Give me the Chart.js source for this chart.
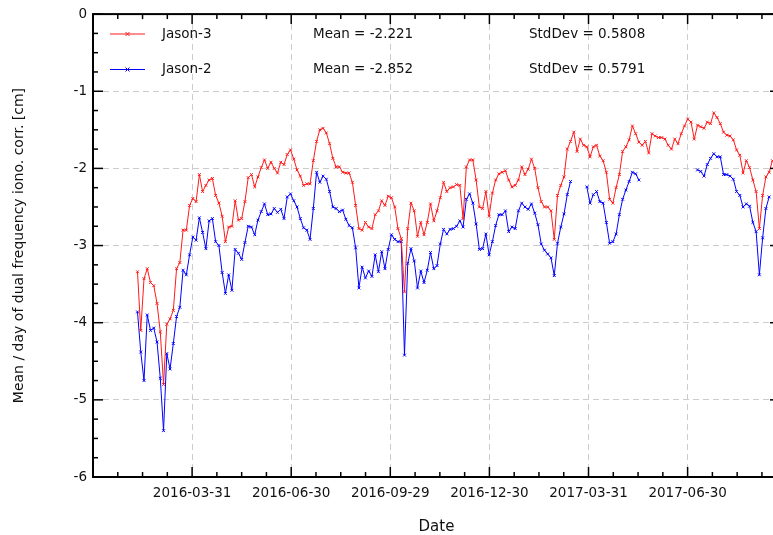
<!DOCTYPE html>
<html>
<head>
<meta charset="utf-8">
<script src="https://cdn.jsdelivr.net/npm/chart.js@4/dist/chart.umd.min.js"></script>
<style>
  html, body { margin: 0; padding: 0; overflow: hidden; background: #fff; }
  #chart { position: absolute; left: 0; top: 0; }
</style>
</head>
<body>
<canvas id="chart" width="790" height="535"></canvas>
<script>
// x axis: days since 2015-12-31, major ticks every quarter year
const QUARTER = 91.3125;
const TICK_LABELS = ['2016-03-31', '2016-06-30', '2016-09-29', '2016-12-30', '2017-03-31', '2017-06-30'];
const FIRST_DAY = 41;   // 2016-02-10
const STEP_DAYS = 3;

const SERIES_NAMES = ['Jason-3', 'Jason-2'];
const MEAN_TEXT = ['Mean = -2.221', 'Mean = -2.852'];
const STD_TEXT = ['StdDev = 0.5808', 'StdDev = 0.5791'];

const JASON3 = [
  -3.34, -4.10, -3.43, -3.30, -3.48, -3.52, -3.75, -4.12, -4.80, -4.02,
  -3.95, -3.84, -3.30, -3.22, -2.80, -2.80, -2.48, -2.39, -2.43, -2.08,
  -2.30, -2.22, -2.15, -2.13, -2.35, -2.45, -2.62, -2.95, -2.76, -2.75,
  -2.42, -2.67, -2.65, -2.43, -2.12, -2.08, -2.24, -2.11, -1.99, -1.89,
  -2.00, -1.92, -2.00, -2.06, -1.92, -1.95, -1.82, -1.76, -1.88, -2.02,
  -2.10, -2.22, -2.20, -2.20, -1.90, -1.65, -1.50, -1.48, -1.54, -1.68,
  -1.87, -1.98, -1.98, -2.05, -2.06, -2.06, -2.18, -2.48, -2.78, -2.80,
  -2.70, -2.76, -2.78, -2.60, -2.55, -2.42, -2.48, -2.36, -2.38, -2.50,
  -2.78, -2.91, -3.60, -2.78, -2.45, -2.55, -2.88, -2.70, -2.86, -2.70,
  -2.46, -2.68, -2.55, -2.38, -2.18, -2.30, -2.25, -2.24, -2.21, -2.22,
  -2.65, -1.98, -1.89, -1.89, -2.15, -2.50, -2.52, -2.30, -2.62, -2.32,
  -2.15, -2.07, -2.05, -2.03, -2.15, -2.24, -2.22, -2.15, -1.98, -2.08,
  -2.01, -1.88, -2.00, -2.25, -2.43, -2.50, -2.50, -2.55, -2.92, -2.35,
  -2.22, -2.11, -1.75, -1.65, -1.53, -1.78, -1.62, -1.70, -1.72, -1.85,
  -1.72, -1.70, -1.84, -1.90, -2.05, -2.40, -2.45, -2.25, -2.08, -1.78,
  -1.72, -1.63, -1.45, -1.55, -1.66, -1.70, -1.65, -1.80, -1.55, -1.58,
  -1.60, -1.60, -1.62, -1.70, -1.75, -1.62, -1.68, -1.55, -1.45, -1.36,
  -1.40, -1.62, -1.44, -1.46, -1.48, -1.40, -1.42, -1.28, -1.34, -1.42,
  -1.53, -1.57, -1.58, -1.63, -1.76, -1.83, -2.06, -1.90, -1.99, -2.15,
  -2.30, -2.78, -2.35, -2.11, -2.05, -1.90
];

const JASON2 = [
  -3.86, -4.38, -4.75, -3.90, -4.10, -4.07, -4.25, -4.72, -5.40, -4.40,
  -4.60, -4.27, -3.92, -3.80, -3.32, -3.38, -3.12, -2.89, -2.93, -2.64,
  -2.83, -3.04, -2.68, -2.65, -2.95, -3.00, -3.35, -3.62, -3.38, -3.58,
  -3.05, -3.10, -3.18, -2.96, -2.75, -2.76, -2.86, -2.67, -2.56, -2.46,
  -2.60, -2.59, -2.52, -2.57, -2.53, -2.65, -2.37, -2.33, -2.42, -2.50,
  -2.65, -2.77, -2.80, -2.92, -2.52, -2.05, -2.18, -2.10, -2.14, -2.30,
  -2.50, -2.52, -2.56, -2.54, -2.66, -2.74, -2.77, -3.03, -3.55, -3.28,
  -3.42, -3.33, -3.40, -3.12, -3.34, -3.08, -3.30, -3.05, -2.86, -2.92,
  -2.95, -2.95, -4.42, -3.23, -3.04, -3.20, -3.55, -3.33, -3.48, -3.32,
  -3.09, -3.30, -3.26, -2.98, -2.79, -2.85, -2.79, -2.78, -2.75, -2.68,
  -2.76, -2.40, -2.33, -2.45, -2.72, -3.05, -3.04, -2.85, -3.12, -2.95,
  -2.74, -2.60, -2.60, -2.55, -2.82, -2.76, -2.78, -2.55, -2.45, -2.50,
  -2.53, -2.46, -2.58, -2.73, -2.98, -3.06, -3.11, -3.16, -3.39, -2.97,
  -2.76, -2.59, -2.34, -2.17, null, null, null, null, -2.24, -2.45,
  -2.34, -2.30, -2.43, -2.45, -2.70, -2.97, -2.95, -2.85, -2.60, -2.40,
  -2.28, -2.17, -2.05, -2.07, -2.15, null, null, null, null, null,
  null, null, null, null, null, null, null, null, null, null,
  null, null, -2.02, -2.04, -2.10, -1.95, -1.87, -1.81, -1.85, -1.85,
  -2.08, -2.08, -2.10, -2.14, -2.30, -2.35, -2.50, -2.46, -2.49, -2.70,
  -2.82, -3.38, -2.90, -2.52, -2.37, null
];

const COLORS = ['#ff1a1a', '#0000ff'];
const FONT = 'DejaVu Sans';

function toPoints(values) {
  return values.map((v, i) => ({ x: FIRST_DAY + i * STEP_DAYS, y: v }));
}

function dataset(i, values) {
  return {
    label: SERIES_NAMES[i],
    data: toPoints(values),
    borderColor: COLORS[i],
    backgroundColor: COLORS[i],
    borderWidth: 1,
    pointStyle: 'crossRot',
    pointRadius: 2,
    pointBorderWidth: 1,
    pointBorderColor: COLORS[i],
    pointHoverRadius: 2,
    spanGaps: false,
    tension: 0
  };
}

// inward ticks, frame and the legend block
const frame = {
  id: 'frame',
  afterDraw(chart) {
    const { ctx, chartArea: a, scales: { x, y } } = chart;
    const seg = (x1, y1, x2, y2) => { ctx.beginPath(); ctx.moveTo(x1, y1); ctx.lineTo(x2, y2); ctx.stroke(); };
    ctx.save();
    ctx.strokeStyle = '#000';
    ctx.lineWidth = 1.5;
    for (let k = 0; k * QUARTER / 4 <= x.max; k++) {
      const px = x.getPixelForValue(k * QUARTER / 4);
      const len = k % 4 === 0 ? 10 : 5;
      seg(px, a.bottom, px, a.bottom - len);
      seg(px, a.top, px, a.top + len);
    }
    for (let k = 0; k <= 24; k++) {
      const py = y.getPixelForValue(-k / 4);
      const len = k % 4 === 0 ? 10 : 5;
      seg(a.left, py, a.left + len, py);
      seg(a.right, py, a.right - len, py);
    }
    ctx.lineWidth = 2;
    ctx.strokeRect(a.left, a.top, a.right - a.left, a.bottom - a.top);

    ctx.font = '13.5px "' + FONT + '"';
    ctx.fillStyle = '#111';
    ctx.textBaseline = 'middle';
    SERIES_NAMES.forEach((name, i) => {
      const ly = 34 + i * 35.5;
      ctx.strokeStyle = COLORS[i];
      ctx.lineWidth = 1;
      seg(110, ly, 145, ly);
      seg(125.5, ly - 2, 129.5, ly + 2);
      seg(125.5, ly + 2, 129.5, ly - 2);
      ctx.fillText(name, 162, ly);
      ctx.fillText(MEAN_TEXT[i], 313, ly);
      ctx.fillText(STD_TEXT[i], 529, ly);
    });
    ctx.restore();
  }
};

new Chart(document.getElementById('chart'), {
  type: 'line',
  data: { datasets: [dataset(0, JASON3), dataset(1, JASON2)] },
  options: {
    responsive: false,
    animation: false,
    devicePixelRatio: 1,
    layout: { padding: { top: 14, right: 10, left: 0, bottom: 0 } },
    plugins: { legend: { display: false }, tooltip: { enabled: false } },
    scales: {
      x: {
        type: 'linear',
        min: 0,
        max: 633,
        afterFit(scale) { scale.height = 58; },
        afterBuildTicks(scale) {
          scale.ticks = TICK_LABELS.map((t, k) => ({ value: (k + 1) * QUARTER }));
        },
        ticks: {
          autoSkip: false,
          maxRotation: 0,
          padding: 8,
          color: '#111',
          font: { family: FONT, size: 13.5 },
          callback: (v, i) => TICK_LABELS[i]
        },
        grid: { color: '#cccccc', lineWidth: 1, drawTicks: false },
        border: { display: false, dash: [6, 4] },
        title: {
          display: true,
          text: 'Date',
          color: '#111',
          font: { family: FONT, size: 15, lineHeight: 1 },
          padding: { top: 0, bottom: 0 }
        }
      },
      y: {
        min: -6,
        max: 0,
        afterFit(scale) { scale.width = 93; },
        ticks: {
          stepSize: 1,
          padding: 6,
          color: '#111',
          font: { family: FONT, size: 13.5 }
        },
        grid: {
          color: c => (c.tick && (c.tick.value === 0 || c.tick.value === -6)) ? 'rgba(0,0,0,0)' : '#cccccc',
          lineWidth: 1,
          drawTicks: false
        },
        border: { display: false, dash: [6, 4] },
        title: {
          display: true,
          text: 'Mean / day of dual frequency iono. corr. [cm]',
          color: '#111',
          font: { family: FONT, size: 14 },
          padding: { top: 11, bottom: 0 }
        }
      }
    }
  },
  plugins: [frame]
});
</script>
</body>
</html>
